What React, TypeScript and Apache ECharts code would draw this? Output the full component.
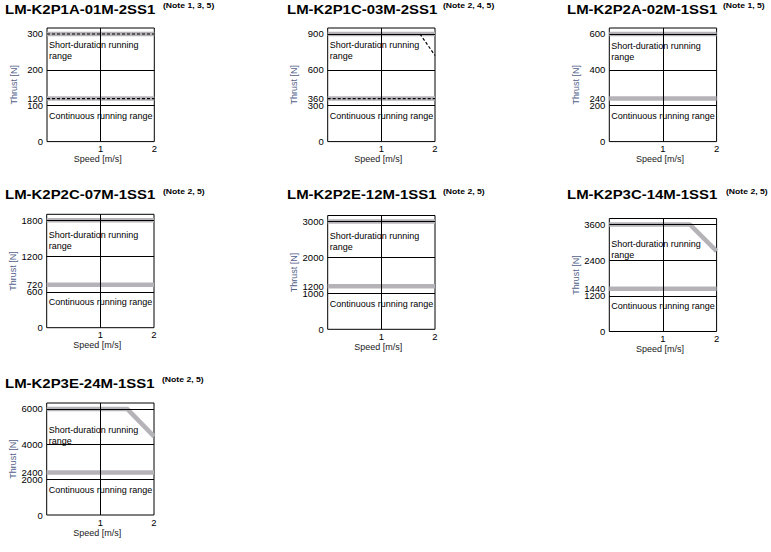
import { useRef, useEffect } from "react";
import * as echarts from "echarts";

// model names and their notes
const models = [
    "LM-K2P1A-01M-2SS1",
    "LM-K2P1C-03M-2SS1",
    "LM-K2P2A-02M-1SS1",
    "LM-K2P2C-07M-1SS1",
    "LM-K2P2E-12M-1SS1",
    "LM-K2P3C-14M-1SS1",
    "LM-K2P3E-24M-1SS1",
];
const notes = [
    "(Note 1, 3, 5)",
    "(Note 2, 4, 5)",
    "(Note 1, 5)",
    "(Note 2, 5)",
    "(Note 2, 5)",
    "(Note 2, 5)",
    "(Note 2, 5)",
];

// thrust axis: grid step, top labelled tick, continuous thrust
const yStep = [100, 300, 200, 600, 1000, 1200, 2000];
const yTop = [300, 900, 600, 1800, 3000, 3600, 6000];
const contThrust = [120, 360, 240, 720, 1200, 1440, 2400];
const xLabels = [1, 2];

// short-duration running curves [speed, thrust]
const shortCurves = [
    [[0, 300], [2, 300]],
    [[0, 900], [2, 900]],
    [[0, 600], [2, 600]],
    [[0, 1800], [2, 1800]],
    [[0, 3000], [2, 3000]],
    [[0, 3600], [1.5, 3600], [2, 2700]],
    [[0, 6000], [1.5, 6000], [2, 4450]],
];
// black dashed curves
const dashedCurves = [
    [[[0, 300], [2, 300]], [[0, 120], [2, 120]]],
    [[[1.72, 900], [2, 720]], [[0, 360], [2, 360]]],
    [], [], [], [], [],
];
// horizontal grid lines
const gridLines = [
    [100, 200],
    [300, 600, 900],
    [200, 400, 600],
    [600, 1200, 1800],
    [1000, 2000, 3000],
    [1200, 2400, 3600],
    [2000, 4000, 6000],
];

// layout (px)
const gridLeft = [47, 327.7, 609.3, 46.7, 327.7, 609.3, 46.7];
const gridTop = [28, 28, 28, 214.3, 215.5, 218.5, 403];
const gridH = [113.6, 113.6, 113.6, 113.4, 113.8, 113, 112];
const gridW = 107.3;
const titleX = [5, 287, 567, 5, 287, 567, 5];
const titleY = [9.2, 9.2, 9.2, 194.5, 194.5, 194.5, 383];
const noteDx = [158, 156, 156, 158, 156, 159, 157];
const shortTextY = [42.3, 42.3, 42.7, 231.7, 233.3, 240.7, 426.7];
const contTextY = [113.3, 113.3, 113.3, 299, 300.7, 303.3, 487.3];

const FONT = '"Liberation Sans", Arial, Helvetica, sans-serif';
const BAND = "#b6b3b8";

function App() {
    const chartRef = useRef<HTMLDivElement | null>(null);

    useEffect(() => {
        if (!chartRef.current) return;
        const chart = echarts.init(chartRef.current, null, { renderer: "svg" });

        const grid = models.map((_, i) => ({
            left: gridLeft[i],
            top: gridTop[i],
            width: gridW,
            height: gridH[i],
            show: true,
            borderColor: "#000",
            borderWidth: 1,
            backgroundColor: "transparent",
            outerBoundsMode: "none",
        }));

        const xAxis = models.map((_, i) => ({
            type: "value",
            gridIndex: i,
            min: 0,
            max: 2,
            name: "Speed [m/s]",
            nameLocation: "middle",
            nameGap: 13,
            nameTextStyle: { color: "#222", fontSize: 9, fontFamily: FONT, padding: [0, 6, 0, 0] },
            axisLine: { show: false },
            axisTick: { show: false },
            splitLine: { show: false },
            axisLabel: {
                customValues: xLabels,
                formatter: (v: number) => String(v),
                color: "#000",
                fontSize: 9.5,
                fontFamily: FONT,
                margin: 2,
            },
        }));

        const yAxis = models.map((_, i) => ({
            type: "value",
            gridIndex: i,
            min: 0,
            max: (yTop[i] * 19) / 18,
            name: "Thrust [N]",
            nameLocation: "middle",
            nameGap: 29,
            nameTextStyle: { color: "#52618a", fontSize: 9, fontFamily: FONT },
            axisLine: { show: false },
            axisTick: { show: false },
            splitLine: { show: false },
            axisLabel: {
                customValues: [0, yStep[i], contThrust[i], yStep[i] * 2, yStep[i] * 3],
                formatter: (v: number) => String(v),
                color: "#000",
                fontSize: 9.5,
                lineHeight: 7,
                fontFamily: FONT,
                margin: 4,
            },
        }));

        const series: any[] = [];
        models.forEach((_, i) => {
            series.push({
                type: "line",
                xAxisIndex: i,
                yAxisIndex: i,
                data: shortCurves[i],
                symbol: "none",
                silent: true,
                lineStyle: { color: BAND, width: 4.5 },
                z: 2,
            });
            series.push({
                type: "line",
                xAxisIndex: i,
                yAxisIndex: i,
                data: [[0, contThrust[i]], [2, contThrust[i]]],
                symbol: "none",
                silent: true,
                lineStyle: { color: BAND, width: 4.5 },
                z: 2,
            });
            dashedCurves[i].forEach((d) => {
                series.push({
                    type: "line",
                    xAxisIndex: i,
                    yAxisIndex: i,
                    data: d,
                    symbol: "none",
                    silent: true,
                    lineStyle: { color: "#000", width: 1.2, type: [3, 2] },
                    z: 4,
                });
            });
            series.push({
                type: "line",
                xAxisIndex: i,
                yAxisIndex: i,
                data: [],
                z: 3,
                markLine: {
                    silent: true,
                    symbol: ["none", "none"],
                    label: { show: false },
                    lineStyle: { color: "#000", width: 1, type: "solid" },
                    data: [...gridLines[i].map((v) => ({ yAxis: v })), { xAxis: 1 }],
                },
            });
        });

        const graphic: any[] = [];
        models.forEach((m, i) => {
            graphic.push({
                type: "text",
                x: titleX[i],
                y: titleY[i],
                scaleX: 1.15,
                style: { text: m, fontSize: 13, fontWeight: "bold", fontFamily: FONT, fill: "#000", verticalAlign: "middle" },
            });
            graphic.push({
                type: "text",
                x: titleX[i] + noteDx[i],
                y: titleY[i] - 3.7,
                scaleX: 1.08,
                style: { text: notes[i], fontSize: 8, fontWeight: "bold", fontFamily: FONT, fill: "#000", verticalAlign: "middle" },
            });
            graphic.push({
                type: "text",
                x: gridLeft[i] + 2,
                y: shortTextY[i] - 2.5,
                z: 10,
                style: {
                    text: "Short-duration running\nrange",
                    fontSize: 9,
                    lineHeight: 11,
                    fontFamily: FONT,
                    fill: "#000",
                    verticalAlign: "top",
                },
            });
            graphic.push({
                type: "text",
                x: gridLeft[i] + 2,
                y: contTextY[i] - 2.5,
                z: 10,
                style: {
                    text: "Continuous running range",
                    fontSize: 9,
                    lineHeight: 11,
                    fontFamily: FONT,
                    fill: "#000",
                    verticalAlign: "top",
                },
            });
        });

        chart.setOption({
            animation: false,
            backgroundColor: "#fff",
            grid,
            xAxis,
            yAxis,
            series,
            graphic,
        });

        return () => {
            chart.dispose();
        };
    }, []);

    return (
        <div
            ref={chartRef}
            style={{ position: "absolute", left: 0, top: 0, width: "771px", height: "552px", background: "#fff" }}
        />
    );
}

export default App;
